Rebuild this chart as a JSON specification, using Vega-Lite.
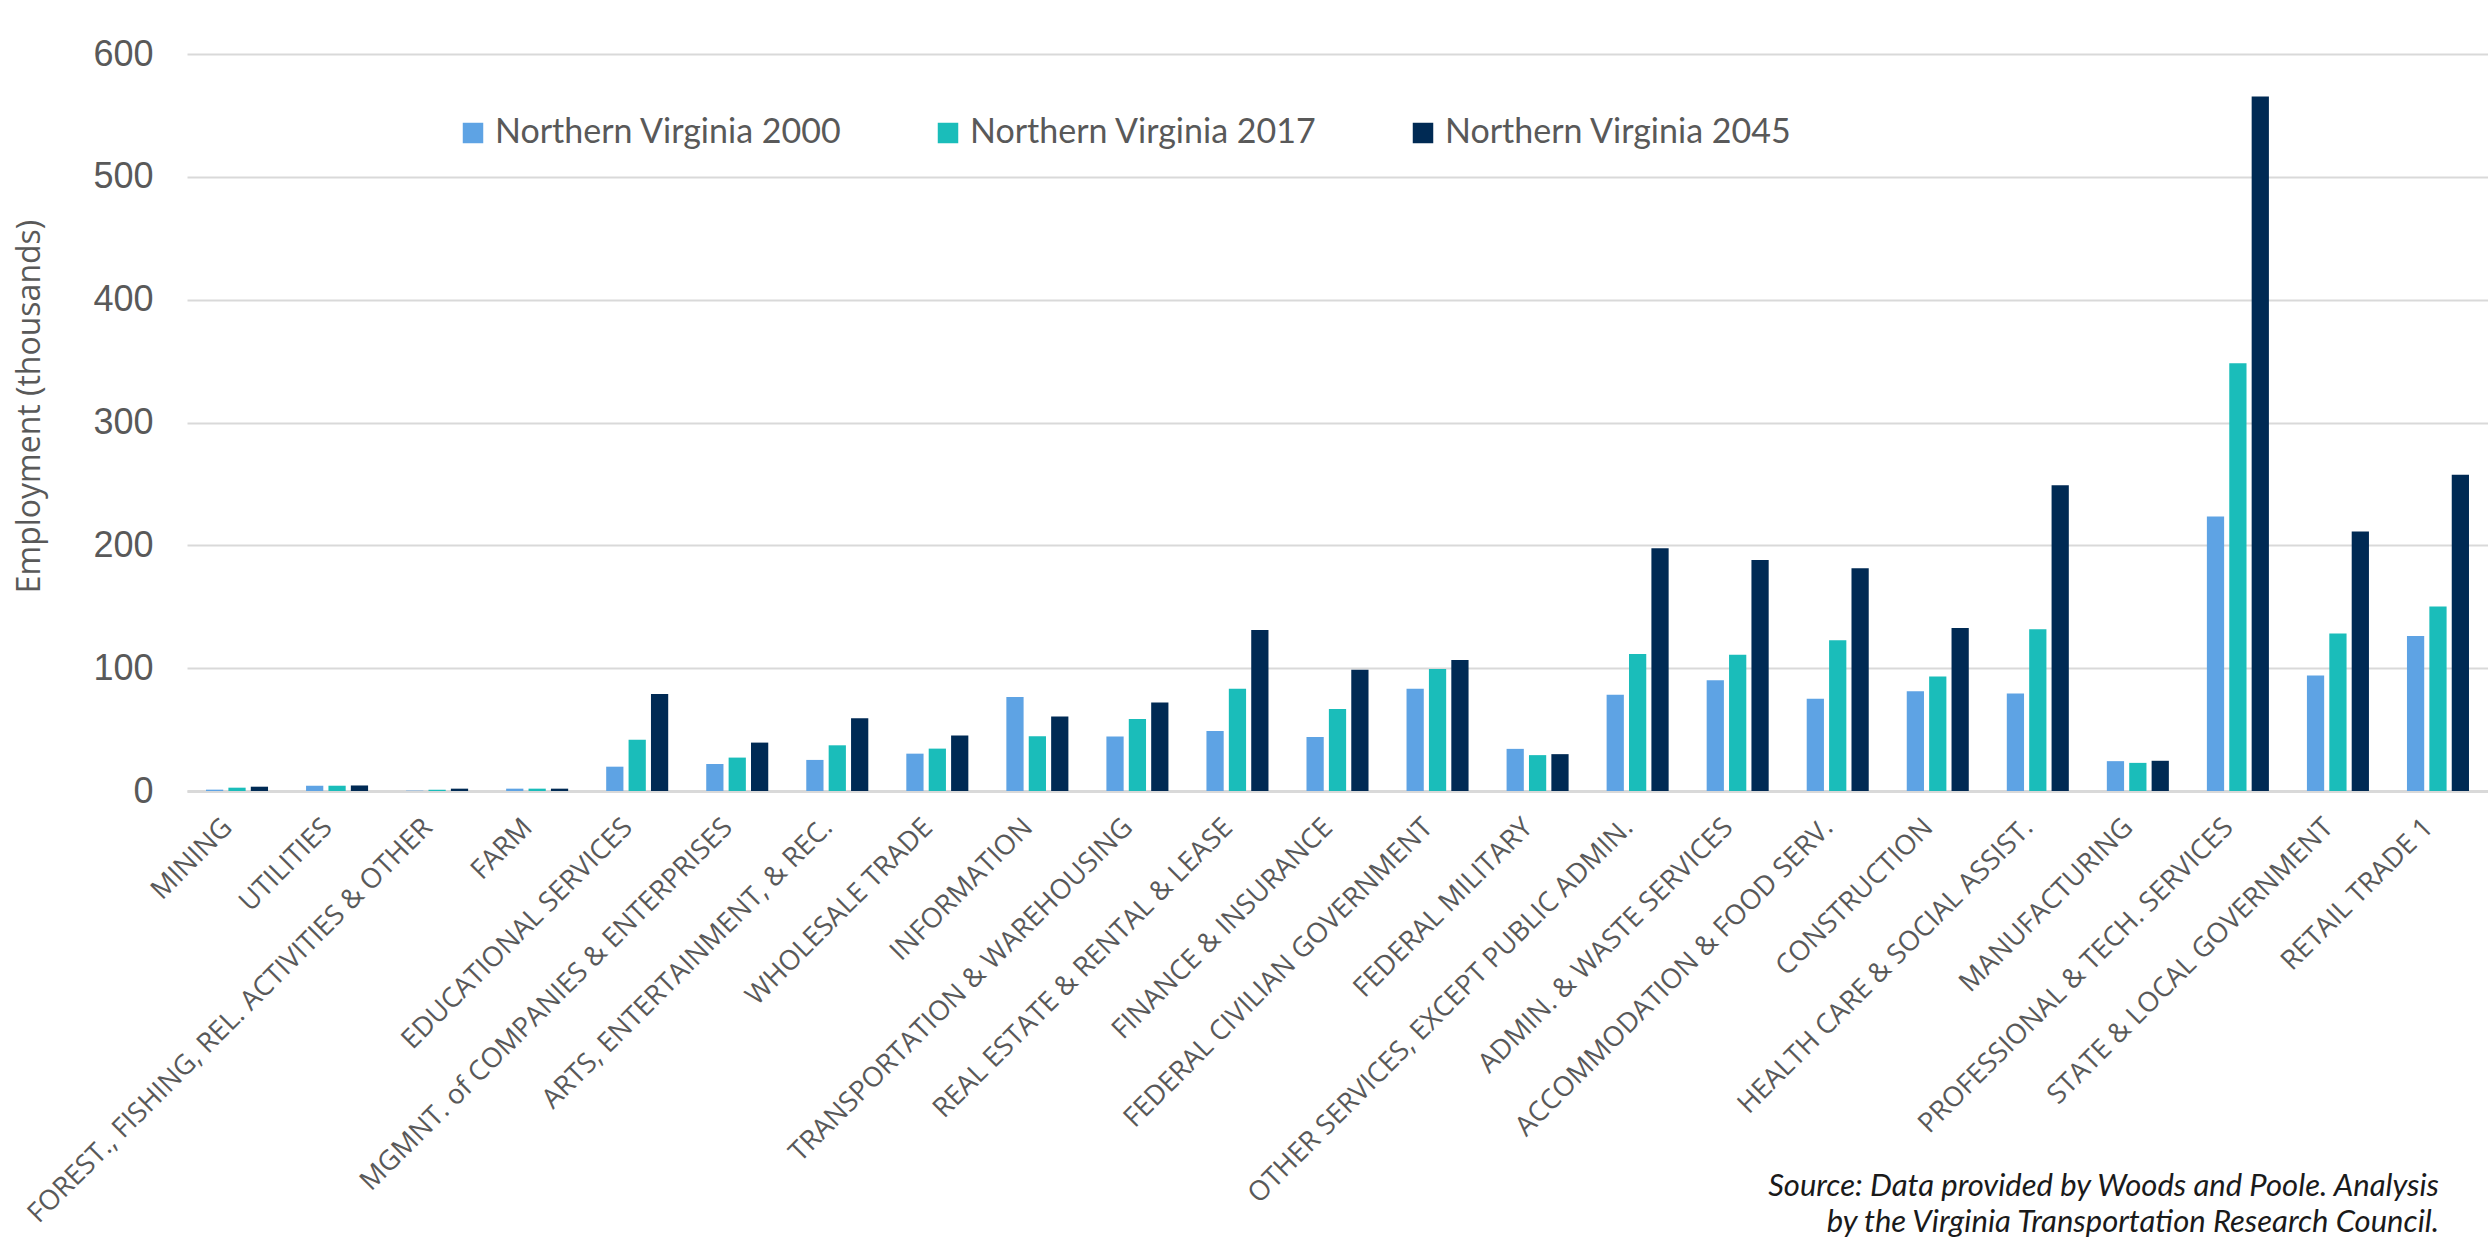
{
  "$schema": "https://vega.github.io/schema/vega-lite/v6.json",
  "autosize": {"type": "none"},
  "padding": {"left": 187, "top": 54, "right": 0, "bottom": 452},
  "width": 2301,
  "height": 737,
  "background": "white",
  "title": {
    "text": ["Source: Data provided by Woods and Poole. Analysis", "by the Virginia Transportation Research Council."],
    "orient": "bottom",
    "anchor": "end",
    "align": "right",
    "frame": "group",
    "font": "Lato",
    "fontStyle": "italic",
    "fontWeight": "normal",
    "fontSize": 31,
    "lineHeight": 36,
    "color": "#1a1a1a",
    "offset": -56,
    "dx": -49
  },
  "data": {
    "values": [
      {"industry": "MINING", "series": "Northern Virginia 2000", "value": 1.1},
      {"industry": "MINING", "series": "Northern Virginia 2017", "value": 2.7},
      {"industry": "MINING", "series": "Northern Virginia 2045", "value": 3.5},
      {"industry": "UTILITIES", "series": "Northern Virginia 2000", "value": 4.3},
      {"industry": "UTILITIES", "series": "Northern Virginia 2017", "value": 4.3},
      {"industry": "UTILITIES", "series": "Northern Virginia 2045", "value": 4.5},
      {"industry": "FOREST., FISHING, REL. ACTIVITIES & OTHER", "series": "Northern Virginia 2000", "value": 0.3},
      {"industry": "FOREST., FISHING, REL. ACTIVITIES & OTHER", "series": "Northern Virginia 2017", "value": 1.1},
      {"industry": "FOREST., FISHING, REL. ACTIVITIES & OTHER", "series": "Northern Virginia 2045", "value": 1.9},
      {"industry": "FARM", "series": "Northern Virginia 2000", "value": 1.9},
      {"industry": "FARM", "series": "Northern Virginia 2017", "value": 1.9},
      {"industry": "FARM", "series": "Northern Virginia 2045", "value": 1.9},
      {"industry": "EDUCATIONAL SERVICES", "series": "Northern Virginia 2000", "value": 19.8},
      {"industry": "EDUCATIONAL SERVICES", "series": "Northern Virginia 2017", "value": 41.8},
      {"industry": "EDUCATIONAL SERVICES", "series": "Northern Virginia 2045", "value": 79},
      {"industry": "MGMNT. of COMPANIES & ENTERPRISES", "series": "Northern Virginia 2000", "value": 22},
      {"industry": "MGMNT. of COMPANIES & ENTERPRISES", "series": "Northern Virginia 2017", "value": 27.2},
      {"industry": "MGMNT. of COMPANIES & ENTERPRISES", "series": "Northern Virginia 2045", "value": 39.4},
      {"industry": "ARTS, ENTERTAINMENT, & REC.", "series": "Northern Virginia 2000", "value": 25.3},
      {"industry": "ARTS, ENTERTAINMENT, & REC.", "series": "Northern Virginia 2017", "value": 37.2},
      {"industry": "ARTS, ENTERTAINMENT, & REC.", "series": "Northern Virginia 2045", "value": 59.2},
      {"industry": "WHOLESALE TRADE", "series": "Northern Virginia 2000", "value": 30.4},
      {"industry": "WHOLESALE TRADE", "series": "Northern Virginia 2017", "value": 34.5},
      {"industry": "WHOLESALE TRADE", "series": "Northern Virginia 2045", "value": 45.1},
      {"industry": "INFORMATION", "series": "Northern Virginia 2000", "value": 76.6},
      {"industry": "INFORMATION", "series": "Northern Virginia 2017", "value": 44.6},
      {"industry": "INFORMATION", "series": "Northern Virginia 2045", "value": 60.6},
      {"industry": "TRANSPORTATION & WAREHOUSING", "series": "Northern Virginia 2000", "value": 44.3},
      {"industry": "TRANSPORTATION & WAREHOUSING", "series": "Northern Virginia 2017", "value": 58.7},
      {"industry": "TRANSPORTATION & WAREHOUSING", "series": "Northern Virginia 2045", "value": 72},
      {"industry": "REAL ESTATE & RENTAL & LEASE", "series": "Northern Virginia 2000", "value": 48.9},
      {"industry": "REAL ESTATE & RENTAL & LEASE", "series": "Northern Virginia 2017", "value": 83.2},
      {"industry": "REAL ESTATE & RENTAL & LEASE", "series": "Northern Virginia 2045", "value": 131},
      {"industry": "FINANCE & INSURANCE", "series": "Northern Virginia 2000", "value": 44},
      {"industry": "FINANCE & INSURANCE", "series": "Northern Virginia 2017", "value": 66.7},
      {"industry": "FINANCE & INSURANCE", "series": "Northern Virginia 2045", "value": 98.7},
      {"industry": "FEDERAL CIVILIAN GOVERNMENT", "series": "Northern Virginia 2000", "value": 83.3},
      {"industry": "FEDERAL CIVILIAN GOVERNMENT", "series": "Northern Virginia 2017", "value": 99.3},
      {"industry": "FEDERAL CIVILIAN GOVERNMENT", "series": "Northern Virginia 2045", "value": 106.7},
      {"industry": "FEDERAL MILITARY", "series": "Northern Virginia 2000", "value": 34.3},
      {"industry": "FEDERAL MILITARY", "series": "Northern Virginia 2017", "value": 29.2},
      {"industry": "FEDERAL MILITARY", "series": "Northern Virginia 2045", "value": 30},
      {"industry": "OTHER SERVICES, EXCEPT PUBLIC ADMIN.", "series": "Northern Virginia 2000", "value": 78.4},
      {"industry": "OTHER SERVICES, EXCEPT PUBLIC ADMIN.", "series": "Northern Virginia 2017", "value": 111.6},
      {"industry": "OTHER SERVICES, EXCEPT PUBLIC ADMIN.", "series": "Northern Virginia 2045", "value": 197.7},
      {"industry": "ADMIN. & WASTE SERVICES", "series": "Northern Virginia 2000", "value": 90.1},
      {"industry": "ADMIN. & WASTE SERVICES", "series": "Northern Virginia 2017", "value": 111},
      {"industry": "ADMIN. & WASTE SERVICES", "series": "Northern Virginia 2045", "value": 188},
      {"industry": "ACCOMMODATION & FOOD SERV.", "series": "Northern Virginia 2000", "value": 75.2},
      {"industry": "ACCOMMODATION & FOOD SERV.", "series": "Northern Virginia 2017", "value": 122.7},
      {"industry": "ACCOMMODATION & FOOD SERV.", "series": "Northern Virginia 2045", "value": 181.4},
      {"industry": "CONSTRUCTION", "series": "Northern Virginia 2000", "value": 81.3},
      {"industry": "CONSTRUCTION", "series": "Northern Virginia 2017", "value": 93.3},
      {"industry": "CONSTRUCTION", "series": "Northern Virginia 2045", "value": 132.8},
      {"industry": "HEALTH CARE & SOCIAL ASSIST.", "series": "Northern Virginia 2000", "value": 79.3},
      {"industry": "HEALTH CARE & SOCIAL ASSIST.", "series": "Northern Virginia 2017", "value": 131.6},
      {"industry": "HEALTH CARE & SOCIAL ASSIST.", "series": "Northern Virginia 2045", "value": 248.9},
      {"industry": "MANUFACTURING", "series": "Northern Virginia 2000", "value": 24.3},
      {"industry": "MANUFACTURING", "series": "Northern Virginia 2017", "value": 22.9},
      {"industry": "MANUFACTURING", "series": "Northern Virginia 2045", "value": 24.6},
      {"industry": "PROFESSIONAL & TECH. SERVICES", "series": "Northern Virginia 2000", "value": 223.5},
      {"industry": "PROFESSIONAL & TECH. SERVICES", "series": "Northern Virginia 2017", "value": 348.2},
      {"industry": "PROFESSIONAL & TECH. SERVICES", "series": "Northern Virginia 2045", "value": 565.5},
      {"industry": "STATE & LOCAL GOVERNMENT", "series": "Northern Virginia 2000", "value": 94.1},
      {"industry": "STATE & LOCAL GOVERNMENT", "series": "Northern Virginia 2017", "value": 128.2},
      {"industry": "STATE & LOCAL GOVERNMENT", "series": "Northern Virginia 2045", "value": 211.2},
      {"industry": "RETAIL TRADE  1", "series": "Northern Virginia 2000", "value": 126.2},
      {"industry": "RETAIL TRADE  1", "series": "Northern Virginia 2017", "value": 150.2},
      {"industry": "RETAIL TRADE  1", "series": "Northern Virginia 2045", "value": 257.5}
    ]
  },
  "mark": {"type": "bar"},
  "encoding": {
    "x": {
      "field": "industry",
      "type": "nominal",
      "sort": null,
      "scale": {"paddingInner": 0.38, "paddingOuter": 0.19},
      "axis": {
        "title": null,
        "labelAngle": -45,
        "labelAlign": "right",
        "labelBaseline": "middle",
        "labelPadding": 32,
        "labelOffset": -9,
        "labelFont": "Open Sans",
        "labelFontSize": 27.5,
        "labelColor": "#595959",
        "labelLimit": 0,
        "labelOverlap": false,
        "ticks": false,
        "domain": true,
        "domainColor": "#d9d9d9",
        "domainWidth": 3
      }
    },
    "xOffset": {
      "field": "series",
      "type": "nominal",
      "scale": {"paddingInner": 0.23, "paddingOuter": 0}
    },
    "y": {
      "field": "value",
      "type": "quantitative",
      "scale": {"domain": [0, 600], "nice": false},
      "axis": {
        "title": "Employment (thousands)",
        "titleFont": "Open Sans",
        "titleFontSize": 32,
        "titleFontWeight": "normal",
        "titleColor": "#595959",
        "titlePadding": 46,
        "titleY": 352,
        "values": [0, 100, 200, 300, 400, 500, 600],
        "labelFont": "Liberation Sans",
        "labelFontSize": 36,
        "labelColor": "#595959",
        "labelPadding": 34,
        "ticks": false,
        "domain": false,
        "grid": true,
        "gridColor": "#d9d9d9",
        "gridWidth": 2
      }
    },
    "color": {
      "field": "series",
      "type": "nominal",
      "scale": {
        "domain": ["Northern Virginia 2000", "Northern Virginia 2017", "Northern Virginia 2045"],
        "range": ["#5EA3E4", "#1ABDBA", "#002A54"]
      },
      "legend": {
        "title": null,
        "orient": "none",
        "direction": "horizontal",
        "legendX": 269,
        "legendY": 62,
        "padding": 0,
        "symbolType": "square",
        "symbolSize": 420,
        "symbolStrokeWidth": 0,
        "labelFont": "Lato",
        "labelFontSize": 34,
        "labelColor": "#595959",
        "labelOffset": 5,
        "columnPadding": 89,
        "labelLimit": 0
      }
    }
  },
  "config": {"view": {"stroke": null}}
}
